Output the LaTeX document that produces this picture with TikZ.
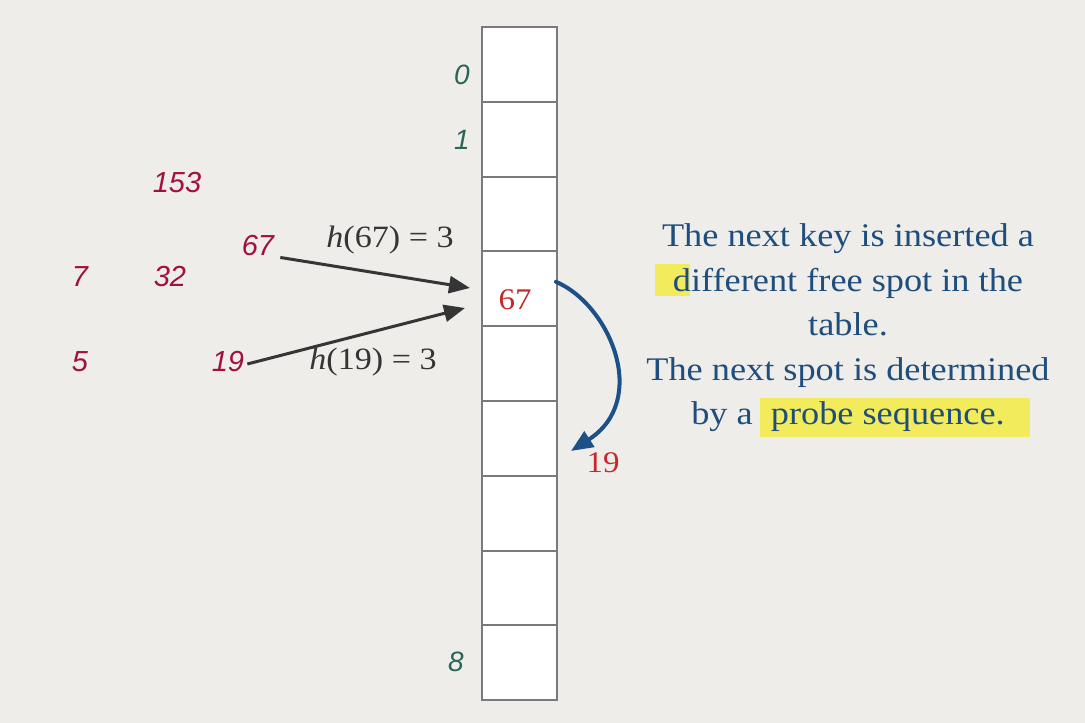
\documentclass[tikz,border=0pt]{standalone}
\usepackage{fontspec}
\setmainfont{Liberation Serif}
\newfontfamily\notefont{Liberation Serif}[FakeStretch=1.1]
\newfontfamily\keyfont{Liberation Sans}
\usetikzlibrary{arrows.meta}
\definecolor{paper}{HTML}{EEEDEA}
\definecolor{cellgray}{HTML}{7A7A7A}
\definecolor{keyred}{HTML}{A01040}
\definecolor{slotred}{HTML}{C42A2A}
\definecolor{idxgreen}{HTML}{2A6656}
\definecolor{arrowgray}{HTML}{353535}
\definecolor{probeblue}{HTML}{1B5088}
\definecolor{noteblue}{HTML}{1F4E7C}
\definecolor{marker}{HTML}{F4EC3A}
\tikzstyle{slot} = [draw=cellgray, fill=white, line width=2pt,
    minimum width=75pt, minimum height=74.8pt, inner sep=0pt]
\tikzstyle{key} = [text=keyred, inner sep=1pt,
    font=\keyfont\itshape\fontsize{29}{34}\selectfont]
\tikzstyle{idx} = [text=idxgreen, font=\keyfont\itshape\fontsize{28}{34}\selectfont]
\tikzstyle{hash} = [text=arrowgray, font=\notefont\fontsize{31}{34}\selectfont]
\tikzstyle{stored} = [text=slotred, font=\notefont\fontsize{30}{34}\selectfont]
\tikzstyle{hasharrow} = [draw=arrowgray, line width=3pt,
    -{Triangle[length=21pt,width=17pt]}]

\begin{document}
\begin{tikzpicture}[x=1pt, y=-1pt]
\fill[paper] (0,0) rectangle (1085,723);
% hash table
\foreach \i in {0,...,8}
    \node[slot] (cell\i) at (519.5, 64.4+74.8*\i) {};
\node[idx] (idx0) at (462,75) {0};
\node[idx] (idx1) at (462,140) {1};
\node[idx] (idx8) at (456,662) {8};
% keys
\node[key] (k153) at (177,183) {153};
\node[key] (k7) at (80,277) {7};
\node[key] (k32) at (170,277) {32};
\node[key] (k5) at (80,362) {5};
\node[key] (k19) at (228,362) {19};
\node[key] (k67) at (258,246) {67};
\node[stored] (s67) at (515,300) {67};
\node[stored] (s19) at (603,463) {19};
% hashing
\coordinate (hit67) at (470,288);
\coordinate (hit19) at (465,308);
\draw[hasharrow] (k67.south east) ++(5,0) -- (hit67);
\draw[hasharrow] (k19.east) ++(2,2) -- (hit19);
\node[hash] (h67) at (390,240) {\textit{h}(67) = 3};
\node[hash] (h19) at (373,362) {\textit{h}(19) = 3};
% probing
\coordinate (probeend) at (571,451);
\draw[probeblue, line width=4pt, line cap=round, -{Triangle[length=22pt,width=18pt]}]
    (cell3.east) ++(-2,-7) .. controls (610,305) and (650,400) .. (probeend);
% note
\fill[marker, opacity=0.8] (655,264) rectangle (690,296);
\fill[marker, opacity=0.8] (760,398) rectangle (1030,437);
\node[text=noteblue, align=center, font=\notefont\fontsize{33}{44.5}\selectfont]
    (note) at (848,328) {The next key is inserted a\\ different free spot in the\\
    table.\\ The next spot is determined\\ by a \ probe sequence.};
\end{tikzpicture}
\end{document}
